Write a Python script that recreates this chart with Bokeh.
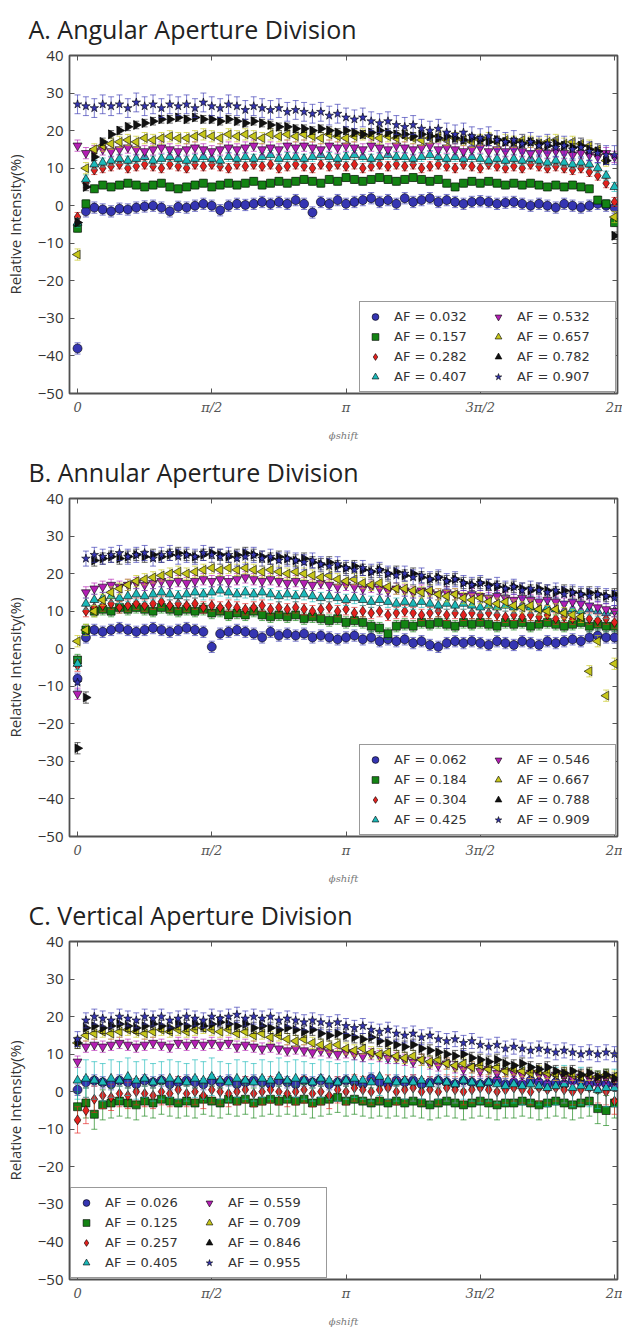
import math
from bokeh.plotting import figure
from bokeh.models import (ColumnDataSource, Legend, LegendItem, Title,
                          FixedTicker, LinearAxis, Range1d)
from bokeh.layouts import column
from bokeh.embed import file_html
from bokeh.resources import INLINE

# ---------------- data ----------------
TITLES = ["A. Angular Aperture Division", "B. Annular Aperture Division", "C. Vertical Aperture Division"]
X_TICKS = [0, math.pi / 2, math.pi, 3 * math.pi / 2, 2 * math.pi]
X_TICK_LABELS = ["0", "π/2", "π", "3π/2", "2π"]
Y_TICKS = [-50, -40, -30, -20, -10, 0, 10, 20, 30, 40]
X_LABEL = "ϕshift"
Y_LABEL = "Relative Intensity(%)"

AF_A = ["0.032", "0.157", "0.282", "0.407", "0.532", "0.657", "0.782", "0.907"]
AF_B = ["0.062", "0.184", "0.304", "0.425", "0.546", "0.667", "0.788", "0.909"]
AF_C = ["0.026", "0.125", "0.257", "0.405", "0.559", "0.709", "0.846", "0.955"]

ERR_A = [1.5, 1.0, 1.2, 1.2, 1.5, 1.5, 1.0, 2.5]
ERR_B = [1.5, 1.5, 1.5, 1.5, 1.5, 1.5, 1.5, 2.0]
ERR_C = [1.5, 4.0, 3.5, 5.0, 1.5, 1.5, 1.5, 2.0]

# Panel A
A1 = [-38, -1.5, -0.5, -1, -1.5, -0.8, -1, -0.5, -0.2, 0, -0.5, -1.5, -0.3,
      -0.5, 0, 0.5, 0, -1.2, 0, 0.5, 0.2, 0.5, 1, 0.5, 1, 0.5,
      1.5, 0.5, -1.8, 1, 0.5, 1.5, 0.5, 1, 1.5, 2, 1, 1.5, 0.5,
      2, 1, 1.5, 2, 1, 1.5, 1, 0.5, 1, 1.2, 1, 0.5, 0.8,
      1, 0.5, 0, 0.5, 0, -0.5, 0.5, 0, -0.5, 0, 0.5, 0, -0.5]
A2 = [-6, 0.5, 4.5, 5.5, 5, 5.5, 6, 5.5, 5, 5.5, 6, 5, 4.5,
      5, 5.5, 6, 5, 5.5, 6, 5.5, 6, 6.5, 5.5, 6, 6.5, 6,
      6.5, 7, 6.5, 6, 7, 6.5, 7.5, 7, 6.5, 7, 7.5, 7, 6.5,
      7, 7.5, 7, 6.5, 7, 6, 5, 6, 6.5, 6, 6.5, 6, 5.5,
      6, 5.5, 6, 5.5, 5, 5.5, 5, 5.5, 5, 4.5, 1.5, 0.5, -4.5]
A3 = [-3, 6, 9.5, 10, 10.5, 11, 10, 10.5, 11, 10.5, 10, 11, 10.5,
      10, 11, 10.5, 11, 10.5, 10, 11, 10.5, 11, 10.5, 11, 10, 10.5,
      11, 10.5, 10, 11, 10.5, 11, 10.5, 11, 10, 10.5, 11, 10.5, 11,
      10.5, 11, 10, 10.5, 11, 10.5, 10, 11, 10.5, 10, 11, 10.5, 10,
      10.5, 10, 11, 10.5, 10, 10.5, 10, 9.5, 10, 9, 8, 6, 1]
A4 = [-4.5, 7, 11, 11.5, 12, 12.5, 12, 12.5, 13, 12, 12.5, 13, 12.5,
      12, 12.5, 13, 12.5, 12, 13, 12.5, 13, 12.5, 13, 13.5, 12.5, 13,
      13, 12.5, 13, 13.5, 13, 12.5, 13, 13.5, 13, 12.5, 13, 13.5, 13,
      13, 12.5, 13, 13.5, 13, 12.5, 13, 12.5, 13, 12.5, 12, 12.5, 12,
      12.5, 12, 12.5, 12, 11.5, 12, 11.5, 11, 11.5, 11, 10, 8, 5]
A5 = [16, 14, 14.5, 15, 14.5, 15, 15.5, 15, 14.5, 15, 15.5, 15, 14.5,
      15, 15.5, 15, 14.5, 15, 15.5, 15, 15.5, 16, 15, 15.5, 15, 16,
      15.5, 16, 15.5, 15, 16, 15.5, 16, 15.5, 15, 16, 15.5, 15, 16,
      15.5, 15, 15.5, 16, 15, 15.5, 15, 14.5, 15, 15.5, 14.5, 15, 14.5,
      15, 14.5, 14, 14.5, 14, 14.5, 14, 13.5, 14, 13.5, 13, 14, 13]
A6 = [-13, 10, 15, 16, 16.5, 17, 17.5, 17, 18, 17.5, 18, 18.5, 18,
      18, 18.5, 19, 18.5, 18, 19, 18.5, 19, 18.5, 18, 19, 18.5, 19,
      18.5, 19, 18.5, 18, 19, 18.5, 18, 18.5, 19, 18.5, 18, 18.5, 18,
      18.5, 18, 17.5, 18, 18.5, 17.5, 18, 17.5, 17, 17.5, 18, 17, 17.5,
      17, 17.5, 17, 16.5, 17, 17.5, 16.5, 17, 16.5, 16, 15, 12, -3]
A7 = [-4.5, 5, 13, 17, 19, 20, 21, 21.5, 22, 22.5, 23, 23, 23.5,
      23, 23.5, 23, 23, 22.5, 23, 22.5, 22, 22.5, 22, 21.5, 21, 21,
      20.5, 20.5, 20, 20.5, 20, 19.5, 20, 19.5, 19, 19.5, 20, 19.5, 19,
      19, 18.5, 19, 18.5, 18, 18.5, 18, 17.5, 18, 17.5, 17, 17.5, 17,
      17, 16.5, 17, 16.5, 16, 16.5, 16, 15.5, 16, 15, 14.5, 12, -8]
A8 = [27, 26.5, 26, 27, 26.5, 27, 26, 27.5, 26.5, 27, 26, 27, 26.5,
      27, 26, 27.5, 26.5, 26, 27, 26.5, 25.5, 26.5, 26, 25.5, 26, 25,
      25.5, 25, 24.5, 25, 24, 24.5, 23.5, 23, 23.5, 22.5, 22, 22.5, 21.5,
      21, 21.5, 20.5, 20, 20.5, 19.5, 19, 19.5, 18.5, 18, 18.5, 17.5, 17,
      17.5, 16.5, 17, 16, 16.5, 15.5, 16, 15, 15.5, 14.5, 14, 13.5, 13.5]

# Panel B
B1 = [-8, 3, 5, 4.5, 5, 5.5, 5, 4.5, 5, 5.5, 5, 4.5, 5,
      5.5, 5, 4.5, 0.5, 4, 4.5, 5, 4.5, 4, 3, 4.5, 3.5, 4,
      3.5, 4, 3, 3.5, 3, 2.5, 3, 3.5, 2.5, 3, 2, 2.5, 2,
      2.5, 1.5, 2, 1, 0.5, 1.5, 2, 1.5, 2, 1.5, 1, 2, 1.5,
      1, 2, 1.5, 1, 2, 1.5, 2, 2.5, 2, 3, 3.5, 3, 3]
B2 = [-3, 5, 10, 10.5, 10, 11, 10.5, 11, 10.5, 10, 11, 10.5, 10,
      10.5, 10, 10.5, 9.5, 10, 9, 9.5, 9, 10, 9, 8.5, 9, 8.5,
      9, 8, 8.5, 8, 7.5, 8, 7, 7.5, 7, 6, 5.5, 4, 6,
      6.5, 6, 7, 6.5, 7, 6.5, 6, 7, 6.5, 7, 6.5, 6, 7,
      6.5, 7, 6, 6.5, 7, 6.5, 6, 6.5, 7, 6, 6.5, 6, 6]
B3 = [-4.5, 10, 11, 11.5, 12, 11, 11.5, 12, 11.5, 12, 12.5, 11.5, 12,
      11.5, 12, 11, 11.5, 11, 11.5, 11, 10.5, 11, 11.5, 10.5, 11, 10.5,
      11, 10.5, 10, 10.5, 11, 10, 10.5, 9.5, 10, 9.5, 10, 9, 9.5,
      10, 9.5, 9, 9.5, 10, 9, 9.5, 9, 9.5, 9, 9.5, 9, 8.5,
      9, 8.5, 9, 8.5, 9, 8, 8.5, 8, 8.5, 8, 7.5, 8, 7]
B4 = [-4, 12, 13, 13.5, 14, 13.5, 14, 14.5, 14, 14.5, 15, 14.5, 14,
      14.5, 15, 14.5, 15, 15.5, 15, 14.5, 15, 14.5, 15, 14.5, 14, 14.5,
      14, 14.5, 14, 13.5, 14, 13.5, 13, 13.5, 13, 12.5, 13, 12.5, 12,
      12.5, 12, 12.5, 12, 11.5, 12, 11.5, 12, 11.5, 11, 11.5, 11, 11.5,
      11, 11.5, 11, 10.5, 11, 10.5, 10, 10.5, 10, 10.5, 10, 9.5, 10]
B5 = [-12, 15, 16, 16.5, 17, 16.5, 17, 17.5, 17, 17.5, 18, 17.5, 18,
      17.5, 18, 18.5, 18, 18.5, 18, 18.5, 19, 18.5, 18, 18.5, 18, 17.5,
      18, 17.5, 17, 17.5, 17, 16.5, 17, 16.5, 16, 16.5, 16, 15.5, 16,
      15.5, 15, 15.5, 15, 14.5, 15, 14.5, 14, 14.5, 14, 13.5, 14, 13.5,
      13, 13.5, 13, 12.5, 13, 12.5, 12, 12.5, 12, 11.5, 11, 10.5, 10]
B6 = [2, 5, 10, 13, 15, 16, 17, 18, 18.5, 19, 19.5, 20, 20.5,
      20, 20.5, 21, 21.5, 21, 21.5, 21, 21.5, 21, 20.5, 21, 20.5, 20,
      20.5, 20, 19.5, 19, 19.5, 18.5, 18, 18.5, 17.5, 17, 17.5, 16.5, 16,
      16, 15.5, 15, 15.5, 14.5, 14, 14.5, 13.5, 13, 13.5, 12.5, 12, 12.5,
      11.5, 11, 11.5, 10.5, 10, 10.5, 9.5, 9, 8.5, -6, 2, -12.5, -4]
B7 = [-26.5, -13, 23.5, 24, 24.5, 24, 24.5, 25, 24.5, 25, 24.5, 25, 25.5,
      25, 24.5, 25, 25.5, 25, 24.5, 25, 25.5, 25, 24.5, 24, 24.5, 24,
      23.5, 24, 23, 22.5, 23, 22, 21.5, 22, 21, 20.5, 21, 20, 20.5,
      19.5, 20, 19, 18.5, 19, 18, 18.5, 17.5, 17, 17.5, 17, 16.5, 16,
      16.5, 16, 15.5, 16, 15.5, 15, 15.5, 15, 14.5, 15, 14.5, 14, 14.5]
B8 = [-9, 24, 25, 24.5, 25, 25.5, 24.5, 25, 25.5, 24, 25, 25.5, 24.5,
      25, 24.5, 25.5, 25, 24.5, 25, 24, 24.5, 25, 24, 24.5, 23.5, 24,
      23.5, 23, 23.5, 22.5, 22, 22.5, 21.5, 21, 21.5, 20.5, 21, 20, 19.5,
      20, 19, 19.5, 18.5, 19, 18, 18.5, 17.5, 17, 17.5, 16.5, 17, 16,
      16.5, 15.5, 16, 15.5, 15, 15.5, 14.5, 15, 14.5, 14, 14.5, 14, 13.5]

# Panel C
C1 = [0.5, 2.5, 3, 2.5, 2, 3, 2.5, 2, 3, 2.5, 3, 2, 2.5,
      3, 2.5, 2, 3, 2.5, 3, 2, 2.5, 3, 2.5, 2, 3, 2.5,
      2, 3, 2.5, 3, 2, 2.5, 3, 2.5, 2, 3.5, 2.5, 2, 3,
      2.5, 3, 2, 2.5, 3, 2.5, 2, 3, 2.5, 2, 2.5, 3, 2,
      2.5, 2, 3, 2.5, 2, 2.5, 2, 3, 2.5, 2, 2.5, 2, 2]
C2 = [-4, -3, -6, -3.5, -3, -2.5, -3, -3.5, -2.5, -3, -2, -2.5, -3,
      -2.5, -3, -2, -2.5, -3, -2, -2.5, -2, -3, -2.5, -2, -2.5, -2,
      -2.5, -2, -3, -2.5, -2, -1.5, -2.5, -2, -2.5, -3, -2.5, -3, -2.5,
      -3, -2.5, -3, -3.5, -3, -2.5, -3, -3.5, -3, -2.5, -3, -3.5, -3,
      -3, -2.5, -3, -3.5, -3, -2.5, -3, -3.5, -3, -2.5, -4.5, -5, -3]
C3 = [-7.5, -5, -2, -1, -1.5, -0.5, -1, 0, -0.5, -1, 0, -0.5, 0.5,
      -0.5, 0, -1, 0.5, 0, -0.5, 0, 0.5, -0.5, 0, 0.5, 0, -0.5,
      0, 0.5, -0.5, 0, -1, 0.5, 0, 1, 0.5, 0, 0.5, 1, 0,
      0.5, 1, 0, 0.5, 0, 1, 0.5, 0, 0.5, 1, 0.5, 0, 0.5,
      1, 0.5, 0, 1, 0.5, 1, 0.5, 0, 0.5, 1, 0.5, 0, -2.5]
C4 = [3, 3.5, 3, 2.5, 3.5, 3, 4, 3, 3.5, 2.5, 3, 3.5, 3,
      2.5, 3.5, 3, 4, 3, 2.5, 3.5, 3, 2.5, 3.5, 3, 4, 3,
      3.5, 3, 2.5, 3.5, 3, 2.5, 3, 3.5, 3, 2.5, 4, 3, 2.5,
      3, 2.5, 3, 2, 3, 2.5, 2, 3, 2.5, 2, 2.5, 2, 1.5,
      2, 1.5, 2, 1.5, 1, 1.5, 2, 1, 1.5, 1, 0.5, 1, 1]
C5 = [8, 12, 12.5, 12, 12.5, 13, 12.5, 12, 12.5, 13, 12.5, 12, 13,
      12.5, 13, 12.5, 13, 12.5, 13, 12, 12.5, 12, 11.5, 12, 11.5, 11,
      11.5, 11, 10.5, 11, 10.5, 10, 10.5, 10, 9.5, 10, 9.5, 9, 9,
      8.5, 8, 8.5, 7.5, 7, 7.5, 6.5, 6, 6.5, 5.5, 6, 5, 5.5,
      5, 4.5, 5, 4.5, 4, 4.5, 4, 3.5, 4, 3.5, 3, 3.5, 3]
C6 = [13, 15, 15.5, 16, 15.5, 16, 16.5, 16, 15.5, 16, 16.5, 16, 16.5,
      16, 16.5, 17, 16.5, 16, 16.5, 15.5, 16, 15, 15.5, 14.5, 15, 14,
      13.5, 14, 13, 12.5, 12, 12.5, 11.5, 11, 11.5, 10.5, 10, 10.5, 9.5,
      9, 9.5, 8.5, 8, 8.5, 7.5, 7, 7.5, 6.5, 7, 6, 6.5, 5.5,
      6, 5.5, 5, 5.5, 5, 4.5, 5, 4.5, 4, 4.5, 4, 4.5, 4]
C7 = [13, 17, 17.5, 17, 17.5, 18, 17.5, 17, 17.5, 18, 17.5, 17, 18,
      17.5, 18, 17.5, 18, 18.5, 18, 17.5, 18, 17, 17.5, 17, 16.5, 17,
      16.5, 16, 16.5, 15.5, 15, 15.5, 15, 14.5, 14, 14.5, 13.5, 13, 12.5,
      12, 12.5, 11.5, 11, 10.5, 10, 9.5, 10, 9, 8.5, 8, 8.5, 7.5,
      7, 7.5, 6.5, 6, 6.5, 5.5, 5, 5.5, 4.5, 5, 4, 4.5, 3.5]
C8 = [14, 19, 20, 19.5, 19, 20, 19.5, 19, 20, 19.5, 20, 19, 19.5,
      20, 19.5, 19, 20, 19.5, 20, 20.5, 19.5, 20, 19.5, 20, 19, 19.5,
      19, 18.5, 19, 18.5, 18, 18.5, 17.5, 17, 17.5, 16.5, 16, 16.5, 15.5,
      15, 15.5, 14.5, 15, 14, 13.5, 14, 13, 13.5, 12.5, 12, 12.5, 11.5,
      12, 11.5, 11, 11.5, 11, 10.5, 11, 10.5, 10, 10.5, 10, 10.5, 10]

SERIES_A = [A1, A2, A3, A4, A5, A6, A7, A8]
SERIES_B = [B1, B2, B3, B4, B5, B6, B7, B8]
SERIES_C = [C1, C2, C3, C4, C5, C6, C7, C8]

# ---------------- style ----------------
COLORS = ["#3535b2", "#138313", "#e3221e", "#1cb9b9", "#b41fb4", "#c6c61a", "#111111", "#3535b2"]
MARKERS = ["circle", "square", "diamond", "triangle", "inverted_triangle", "triangle", "triangle", "star"]
ANGLES = [0, 0, 0, 0, 0, math.pi / 2, -math.pi / 2, 0]
SIZES = [9, 8, 10, 9, 9, 9, 9, 9]

W, H = 622, 443
LEFT, RIGHT, TOP, BOTTOM = 69, 5, 52, 50


def make_panel(title, afs, series, errs, legend_loc):
    p = figure(width=W, height=H, output_backend="svg", toolbar_location=None,
               x_range=Range1d(-0.094, 2 * math.pi + 0.035), y_range=Range1d(-50, 40),
               min_border_left=LEFT, min_border_right=RIGHT,
               min_border_top=TOP, min_border_bottom=BOTTOM,
               background_fill_color="white", border_fill_color="white")
    p.title = Title(text=title, text_font="Open Sans", text_font_size="25px",
                    text_font_style="normal", text_color="#222222",
                    align="left", offset=-41, standoff=19)
    p.grid.visible = False
    p.outline_line_color = "#505050"
    p.outline_line_width = 1.8

    xa = p.xaxis[0]
    xa.ticker = FixedTicker(ticks=X_TICKS)
    xa.major_label_overrides = {t: l for t, l in zip(X_TICKS, X_TICK_LABELS)}
    xa.major_label_text_font = "DejaVu Serif"
    xa.major_label_text_font_style = "italic"
    xa.major_label_text_font_size = "13px"
    xa.major_label_text_color = "#555555"
    xa.axis_label = X_LABEL
    xa.axis_label_text_font = "DejaVu Serif"
    xa.axis_label_text_font_style = "italic"
    xa.axis_label_text_font_size = "10px"
    xa.axis_label_text_color = "#777777"
    xa.axis_label_standoff = 12
    ya = p.yaxis[0]
    ya.ticker = FixedTicker(ticks=Y_TICKS)
    ya.major_label_text_font = "Open Sans"
    ya.major_label_text_font_size = "15px"
    ya.major_label_text_color = "#333333"
    ya.axis_label = Y_LABEL
    ya.axis_label_text_font = "Open Sans"
    ya.axis_label_text_font_size = "15px"
    ya.axis_label_text_font_style = "normal"
    ya.axis_label_text_color = "#333333"
    ya.axis_label_standoff = 10
    for ax in (xa, ya):
        ax.axis_line_color = None
        ax.major_tick_in = 5
        ax.major_tick_out = 0
        ax.minor_tick_line_color = None
        ax.major_tick_line_color = "#555555"
        ax.major_label_standoff = 6
    top = LinearAxis(ticker=FixedTicker(ticks=X_TICKS),
                     major_label_overrides={t: "" for t in X_TICKS},
                     axis_line_color=None, major_tick_in=5, major_tick_out=0,
                     minor_tick_line_color=None, major_tick_line_color="#555555")
    right = LinearAxis(ticker=FixedTicker(ticks=Y_TICKS),
                       major_label_overrides={t: "" for t in Y_TICKS},
                       axis_line_color=None, major_tick_in=5, major_tick_out=0,
                       minor_tick_line_color=None, major_tick_line_color="#555555")
    p.add_layout(top, "above")
    p.add_layout(right, "right")

    items = []
    for i, vals in enumerate(series):
        n = len(vals)
        xs = [k * 2 * math.pi / (n - 1) for k in range(n)]
        e = errs[i]
        src = ColumnDataSource(dict(x=xs, y=vals, lo=[v - e for v in vals], hi=[v + e for v in vals]))
        c = COLORS[i]
        p.segment(x0="x", y0="lo", x1="x", y1="hi", source=src, line_color=c, line_alpha=0.65, line_width=1)
        p.scatter(x="x", y="lo", source=src, marker="dash", size=6, line_color=c, line_alpha=0.65, line_width=1)
        p.scatter(x="x", y="hi", source=src, marker="dash", size=6, line_color=c, line_alpha=0.65, line_width=1)
        r = p.scatter(x="x", y="y", source=src, marker=MARKERS[i], angle=ANGLES[i], size=SIZES[i],
                      fill_color=c, line_color="black", line_width=0.6)
        items.append(LegendItem(label="AF = " + afs[i], renderers=[r]))

    leg = Legend(items=items, location=legend_loc, orientation="vertical", nrows=4,
                 label_text_font="DejaVu Sans", label_text_font_size="13px", label_text_color="#333333",
                 border_line_color="#333333", border_line_width=1.6, background_fill_alpha=1,
                 label_height=17, glyph_height=17, glyph_width=18, label_standoff=10,
                 spacing=3, padding=6, margin=1, label_width=92)
    p.add_layout(leg)
    return p


pA = make_panel(TITLES[0], AF_A, SERIES_A, ERR_A, "bottom_right")
pB = make_panel(TITLES[1], AF_B, SERIES_B, ERR_B, "bottom_right")
pC = make_panel(TITLES[2], AF_C, SERIES_C, ERR_C, "bottom_left")

layout = column(pA, pB, pC, spacing=0)
open("out.html", "w").write(file_html(layout, INLINE))
